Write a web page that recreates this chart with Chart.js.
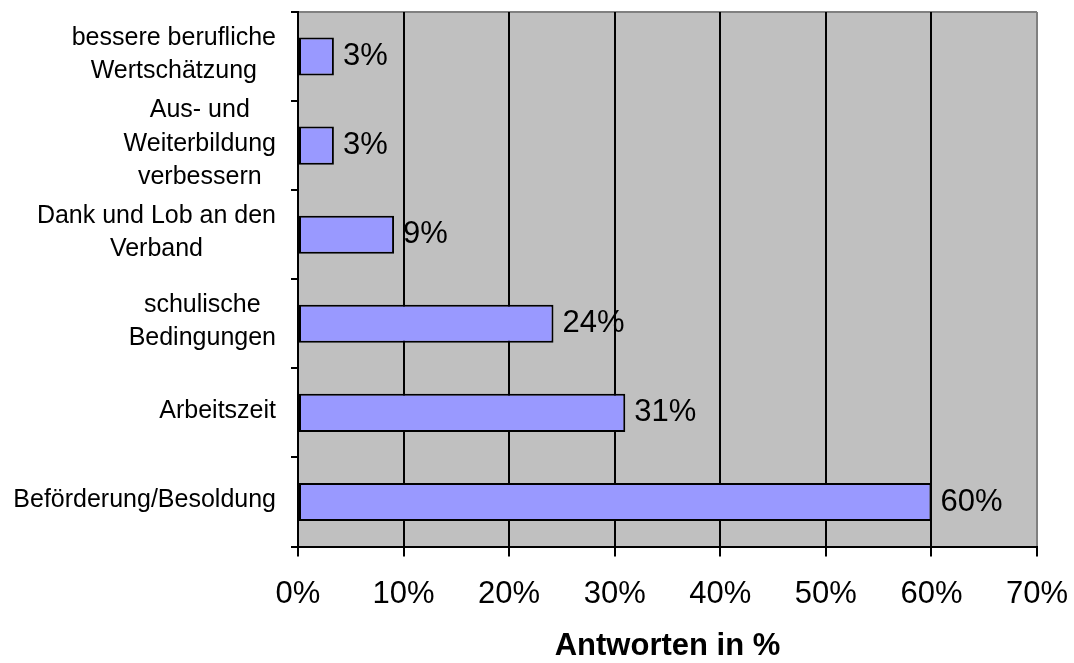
<!DOCTYPE html>
<html>
<head>
<meta charset="utf-8">
<title>Antworten in %</title>
<script src="https://cdn.jsdelivr.net/npm/chart.js@4"></script>
<style>
    html, body { margin: 0; padding: 0; background: #ffffff; }
    #wrapper { width: 1074px; height: 663px; }
</style>
</head>
<body>
<div id="wrapper">
    <canvas id="chart" width="1074" height="663"></canvas>
</div>
<script>
// Categories from top to bottom, one entry per line of the label.
const categories = [
    ["bessere berufliche", "Wertschätzung"],
    ["Aus- und", "Weiterbildung", "verbessern"],
    ["Dank und Lob an den", "Verband"],
    ["schulische", "Bedingungen"],
    ["Arbeitszeit"],
    ["Beförderung/Besoldung"]
];
// Share of answers in percent (bar lengths) and the printed labels.
const answerShares = [3.4, 3.4, 9.1, 24.2, 31, 60];
const valueLabels = ["3%", "3%", "9%", "24%", "31%", "60%"];
// Percentage ticks on the x axis.
const xTicks = [0, 10, 20, 30, 40, 50, 60, 70];

const fontFamily = "'Liberation Sans', Arial, Helvetica, sans-serif";


/**
 * Paints the grey plot background and the grey top frame line.
 */
const plotBackground = {
    id: "plotBackground",
    beforeDraw(chart) {
        const { ctx, chartArea: a } = chart;
        ctx.save();
        ctx.fillStyle = "#c0c0c0";
        ctx.fillRect(a.left, a.top, a.right - a.left, a.bottom - a.top);
        ctx.strokeStyle = "#808080";
        ctx.lineWidth = 2;
        ctx.beginPath();
        ctx.moveTo(a.left, a.top);
        ctx.lineTo(a.right, a.top);
        ctx.stroke();
        ctx.restore();
    }
};


/**
 * Draws the multi-line category labels (lines centred, block right aligned)
 * and the percentage labels next to the bars.
 */
const textLabels = {
    id: "textLabels",
    afterDraw(chart) {
        const { ctx, chartArea: a } = chart;
        const yScale = chart.scales.y;
        const lineHeight = 33.5;
        ctx.save();
        ctx.fillStyle = "#000000";
        ctx.textBaseline = "middle";

        ctx.font = `25px ${fontFamily}`;
        ctx.textAlign = "center";
        categories.forEach((lines, i) => {
            const y = yScale.getPixelForValue(i) - 2;
            const blockWidth = Math.max(...lines.map(l => ctx.measureText(l).width));
            const centerX = a.left - 22 - blockWidth / 2;
            lines.forEach((line, j) => {
                ctx.fillText(line, centerX, y + (j - (lines.length - 1) / 2) * lineHeight);
            });
        });

        ctx.font = `31px ${fontFamily}`;
        ctx.textAlign = "left";
        const meta = chart.getDatasetMeta(0);
        meta.data.forEach((bar, i) => {
            ctx.fillText(valueLabels[i], bar.x + 9, bar.y);
        });
        ctx.restore();
    }
};


new Chart(document.getElementById("chart"), {
    type: "bar",
    data: {
        labels: categories,
        datasets: [{
            data: answerShares,
            backgroundColor: "#9999ff",
            borderColor: "#000000",
            borderWidth: 2,
            borderSkipped: false,
            barPercentage: 0.427,
            categoryPercentage: 1
        }]
    },
    options: {
        indexAxis: "y",
        responsive: false,
        animation: false,
        layout: {
            padding: { left: 0, right: 37, top: 12, bottom: 0 }
        },
        plugins: {
            legend: { display: false },
            tooltip: { enabled: false }
        },
        scales: {
            x: {
                min: xTicks[0],
                max: xTicks[xTicks.length - 1],
                afterBuildTicks: scale => {
                    scale.ticks = xTicks.map(v => ({ value: v }));
                },
                afterFit: scale => {
                    scale.height = 116.5;
                    scale.paddingLeft = 0;
                    scale.paddingRight = 0;
                },
                ticks: {
                    color: "#000000",
                    padding: 19,
                    font: { family: fontFamily, size: 31 },
                    callback: v => v + "%"
                },
                grid: {
                    color: c => (c.tick && c.tick.value === 70 ? "#808080" : "#000000"),
                    tickColor: "#000000",
                    lineWidth: 2,
                    tickLength: 10
                },
                border: { color: "#000000", width: 2 },
                title: {
                    display: true,
                    text: "Antworten in %",
                    color: "#000000",
                    font: { family: fontFamily, size: 31, weight: "bold", lineHeight: 1 },
                    padding: { top: 0, bottom: 1 }
                }
            },
            y: {
                offset: true,
                ticks: { display: false },
                grid: {
                    offset: true,
                    drawOnChartArea: false,
                    color: "#000000",
                    lineWidth: 2,
                    tickLength: 7
                },
                border: { color: "#000000", width: 2 },
                afterFit: scale => {
                    scale.width = 298;
                }
            }
        }
    },
    plugins: [plotBackground, textLabels]
});
</script>
</body>
</html>
